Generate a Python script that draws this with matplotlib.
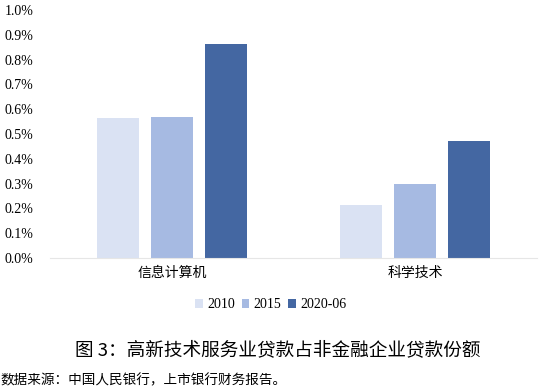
import numpy as np
import matplotlib
matplotlib.use('Agg')
import matplotlib.pyplot as plt
from matplotlib.ticker import FuncFormatter

plt.rcParams['font.family'] = ['Liberation Serif', 'Noto Sans CJK SC', 'DejaVu Sans']

# DATA
categories = ['信息计算机', '科学技术']
series = ['2010', '2015', '2020-06']
v2010 = [0.565, 0.214]
v2015 = [0.568, 0.298]
v2020 = [0.863, 0.472]
colors = ['#DAE2F3', '#A6BAE2', '#4467A2']

fig = plt.figure(figsize=(5.47, 3.89), dpi=100)
ax = fig.add_axes([0.0914, 0.3368, 0.8903, 0.6375])

x = np.arange(len(categories))
w = 0.173
step = 0.222
for i, (lab, vals) in enumerate(zip(series, [v2010, v2015, v2020])):
    ax.bar(x + (i - 1) * step, vals, width=w, color=colors[i], label=lab)

ax.set_xlim(-0.5, 1.5)
ax.set_ylim(0, 1.0)
ax.set_yticks(np.arange(0, 1.01, 0.1))
ax.yaxis.set_major_formatter(FuncFormatter(lambda v, p: '{:.1f}%'.format(v)))
ax.set_xticks(x)
ax.set_xticklabels(categories, fontsize=10, family=['Noto Sans CJK SC'])
ax.tick_params(axis='y', length=0, labelsize=10, pad=12)
ax.tick_params(axis='x', length=0, pad=6)
for s in ['top', 'right', 'left']:
    ax.spines[s].set_visible(False)
ax.spines['bottom'].set_color('#E6E6E6')

fig.legend(loc='center', bbox_to_anchor=(0.495, 0.216), ncol=3, frameon=False,
           fontsize=10, handlelength=0.55, handleheight=0.6, handletextpad=0.3,
           columnspacing=0.5)

fig.text(0.508, 0.1, '图 3：高新技术服务业贷款占非金融企业贷款份额', ha='center', va='center',
         fontsize=13.4, family=['Noto Sans CJK SC'])
fig.text(0.0, 0.023, '数据来源：中国人民银行，上市银行财务报告。', ha='left', va='center',
         fontsize=9.8, family=['Noto Sans CJK SC'])

fig.savefig('out.png', dpi=100)
